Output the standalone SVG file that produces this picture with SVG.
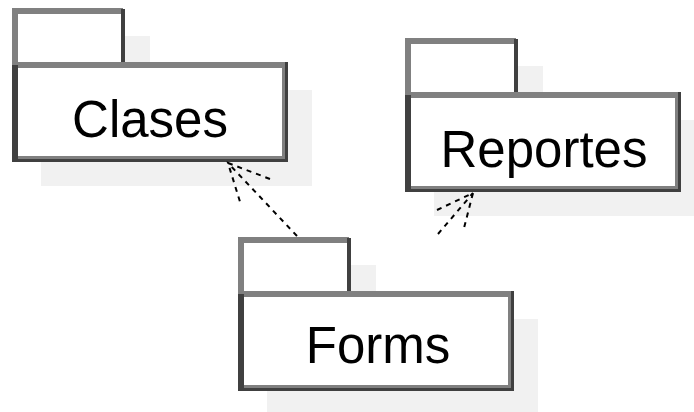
<svg xmlns="http://www.w3.org/2000/svg" width="694" height="412" viewBox="0 0 694 412">
<style>
.shadow{fill:#f1f1f1;stroke:none}
.tab{fill:#fff;stroke:none}
.lite{fill:none;stroke:#808080;stroke-width:6}
.body{fill:#fff;stroke:#808080;stroke-width:6}
.dark{fill:none;stroke:#404040}
.lbl{font-family:"Liberation Sans",Arial,sans-serif;font-size:51px;fill:#000;text-anchor:middle}
.dep{fill:none;stroke:#000;stroke-width:2;stroke-dasharray:5 5}
</style>
<defs>
<g id="pkgShape">
<rect class="shadow" x="29" y="28" width="109" height="40"/>
<rect class="shadow" x="29" y="82" width="271" height="96"/>
<rect class="tab" x="3" y="3" width="108" height="54"/>
<path class="lite" d="M3,57 V3 H111"/>
<line class="dark" x1="111" y1="1" x2="111" y2="57" stroke-width="4"/>
<rect class="body" x="3" y="57" width="270" height="94"/>
<line class="dark" x1="3" y1="57" x2="3" y2="154" stroke-width="6"/>
<line class="dark" x1="274.5" y1="54" x2="274.5" y2="154" stroke-width="3"/>
<line class="dark" x1="0" y1="152.5" x2="276" y2="152.5" stroke-width="3"/>
</g>
</defs>
<g id="Clases" transform="translate(12,8)">
<use href="#pkgShape"/>
<text class="lbl" x="138" y="129">Clases</text>
</g>
<g id="Reportes" transform="translate(405,38)">
<use href="#pkgShape"/>
<text class="lbl" x="139" y="129">Reportes</text>
</g>
<g id="Forms" transform="translate(238,237)">
<use href="#pkgShape"/>
<text class="lbl" x="140" y="126">Forms</text>
</g>
<g id="connectors">
<path class="dep" d="M297,236 L228,163"/>
<path class="dep" d="M270,179 L228,163 L241,205"/>
<path class="dep" d="M438,234 L473,193"/>
<path class="dep" d="M437,210 L473,193 L463,232"/>
</g>
</svg>
